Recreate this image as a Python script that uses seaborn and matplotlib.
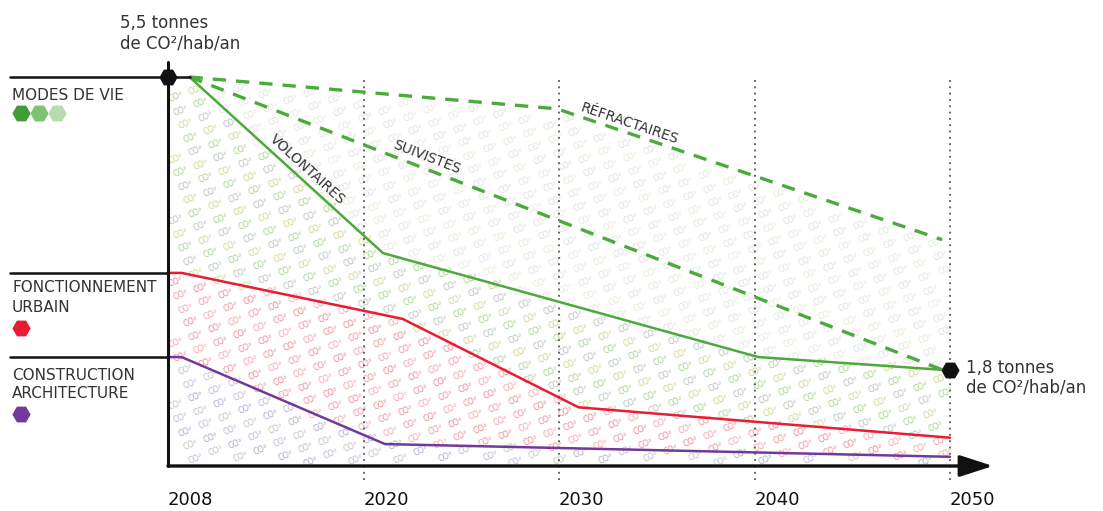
import numpy as np
import pandas as pd
import matplotlib
matplotlib.use("Agg")
import matplotlib.pyplot as plt
import seaborn as sns

# axe des années : positions régulières (2008 -> 2020 dessiné comme une décennie)
annees = ["2008", "2020", "2030", "2040", "2050"]
pos_annees = [0, 1, 2, 3, 4]

# trajectoires "modes de vie" (t CO2/hab/an)
volontaires_x = [0.11, 1.10, 3.02, 3.96]
volontaires_y = [5.50, 3.01, 1.54, 1.36]
suivistes_x = [0.11, 3.96]
suivistes_y = [5.50, 1.36]
refractaires_x = [0.11, 1.99, 3.96]
refractaires_y = [5.50, 5.05, 3.20]

# fonctionnement urbain / construction-architecture
urbain_x = [0.0, 0.07, 1.20, 2.10, 4.0]
urbain_y = [2.73, 2.73, 2.08, 0.83, 0.40]
construction_x = [0.0, 0.07, 1.11, 4.0]
construction_y = [1.54, 1.54, 0.31, 0.13]

depart = (0.0, 5.5)
arrivee = (4.0, 1.36)

vert = "#4caa3c"
rouge = "#e81c35"
violet = "#73399a"
noir = "#111111"
gris_txt = "#333333"

sns.set_theme(style="white")
plt.rcParams["font.family"] = ["DejaVu Sans"]

W, H = 1103, 511
fig = plt.figure(figsize=(W / 100, H / 100), dpi=100)
PX = 195.5            # pixels par intervalle
PY = 389 / 5.5        # pixels par tonne
ax = fig.add_axes([168 / W, 45 / H, 4.3 * PX / W, 406 / H])
ax.set_xlim(0, 4.3)
ax.set_ylim(0, 406 / PY)
ax.axis("off")


def fx(px):
    return px / W


def fy(py):
    return 1 - py / H


# motif "CO²" en fond, coloré selon la bande
haut = lambda x: np.interp(x, [0] + refractaires_x, [5.5] + refractaires_y)
g_vert = lambda x: np.interp(x, [0] + volontaires_x, [5.5] + volontaires_y)
g_rouge = lambda x: np.interp(x, urbain_x, urbain_y)
g_violet = lambda x: np.interp(x, construction_x, construction_y)
pal = {
    "A": ["#dde4d8", "#e6e8d4", "#dadfe0"],
    "B": ["#9fce88", "#cad386", "#b0beb6"],
    "C": ["#f2808b", "#f59ea6", "#f18d95"],
    "D": ["#aaa3cc", "#bab3cf", "#c4bcbc"],
}
for i in range(-20, 50):
    for j in range(-40, 40):
        px = i * 20 + j * 5 + 8
        pu = i * 7.5 - j * 13.5
        x, y = px / PX, pu / PY
        if not (0.03 < x < 3.98 and 0.06 < y < haut(x) - 0.06):
            continue
        if y > g_vert(x):
            b = "A"
        elif y > g_rouge(x):
            b = "B"
        elif y > g_violet(x):
            b = "C"
        else:
            b = "D"
        c = pal[b][(i + 2 * j) % 3]
        ax.text(x, y, "CO²", fontsize=5.8, rotation=22, ha="center", va="center",
                color=c, zorder=1)

# lignes pointillées des années
ax.vlines(pos_annees[1:], -0.2, 5.46, colors="#555555", lw=1.3,
          linestyles=(0, (1, 2.5)), clip_on=False, zorder=2)

# courbes
sns.lineplot(x=refractaires_x, y=refractaires_y, ax=ax, color=vert, lw=2.4,
             linestyle=(0, (4, 3)), estimator=None, sort=False, zorder=4, clip_on=False)
sns.lineplot(x=suivistes_x, y=suivistes_y, ax=ax, color=vert, lw=2.4,
             linestyle=(0, (4, 3)), estimator=None, sort=False, zorder=4, clip_on=False)
sns.lineplot(x=volontaires_x, y=volontaires_y, ax=ax, color=vert, lw=1.8,
             estimator=None, sort=False, zorder=4, clip_on=False)
sns.lineplot(x=urbain_x, y=urbain_y, ax=ax, color=rouge, lw=1.8,
             estimator=None, sort=False, zorder=4, clip_on=False)
sns.lineplot(x=construction_x, y=construction_y, ax=ax, color=violet, lw=1.8,
             estimator=None, sort=False, zorder=4, clip_on=False)

# axes
ax.plot([0, 0], [0, 404 / PY], color=noir, lw=2.2, clip_on=False, zorder=5)
ax.annotate("", xy=(4.22, 0), xytext=(0, 0), annotation_clip=False, zorder=5,
            arrowprops=dict(arrowstyle="-|>,head_length=1.7,head_width=0.55",
                            color=noir, lw=2.4, shrinkA=0, shrinkB=0))
xg = -158 / PX
ax.plot([xg, volontaires_x[0]], [volontaires_y[0]] * 2, color=noir, lw=1.8, clip_on=False, zorder=5)
ax.plot([xg, 0], [urbain_y[0]] * 2, color=noir, lw=1.8, clip_on=False, zorder=5)
ax.plot([xg, 0], [construction_y[0]] * 2, color=noir, lw=1.8, clip_on=False, zorder=5)

ax.plot(*depart, marker="H", ms=12, color=noir, clip_on=False, zorder=6)
ax.plot(*arrivee, marker="H", ms=12, color=noir, clip_on=False, zorder=6)

for p, a in zip(pos_annees, annees):
    ax.text(p, -34 / PY, a, fontsize=13, ha="left", va="center", color=noir)


def etiquette(xs, ys, k, t, texte, off):
    p0 = ax.transData.transform((xs[k], ys[k]))
    p1 = ax.transData.transform((xs[k + 1], ys[k + 1]))
    ang = np.degrees(np.arctan2(p1[1] - p0[1], p1[0] - p0[0]))
    x = xs[k] + t * (xs[k + 1] - xs[k])
    y = ys[k] + t * (ys[k + 1] - ys[k])
    r = np.radians(ang)
    ax.annotate(texte, (x, y), xytext=(-np.sin(r) * off, np.cos(r) * off),
                textcoords="offset points", rotation=ang, rotation_mode="anchor",
                ha="center", va="bottom", fontsize=10, color=gris_txt, zorder=7)


etiquette(volontaires_x, volontaires_y, 0, 0.57, "VOLONTAIRES", 3)
etiquette(suivistes_x, suivistes_y, 0, 0.31, "SUIVISTES", 3)
etiquette(refractaires_x, refractaires_y, 1, 0.18, "RÉFRACTAIRES", 1.5)

# textes d'extrémité
fig.text(fx(120), fy(23), "5,5 tonnes", fontsize=12, color=gris_txt, ha="left", va="center")
fig.text(fx(120), fy(43), "de CO²/hab/an", fontsize=12, color=gris_txt, ha="left", va="center")
fig.text(fx(966), fy(368), "1,8 tonnes", fontsize=12, color=gris_txt, ha="left", va="center")
fig.text(fx(966), fy(388), "de CO²/hab/an", fontsize=12, color=gris_txt, ha="left", va="center")

# légende à gauche
fig.text(fx(12), fy(96), "MODES DE VIE", fontsize=11, color=gris_txt, ha="left", va="center")
fig.text(fx(12), fy(288), "FONCTIONNEMENT", fontsize=11, color=gris_txt, ha="left", va="center")
fig.text(fx(12), fy(307), "URBAIN", fontsize=11, color=gris_txt, ha="left", va="center")
fig.text(fx(12), fy(375), "CONSTRUCTION", fontsize=11, color=gris_txt, ha="left", va="center")
fig.text(fx(12), fy(393), "ARCHITECTURE", fontsize=11, color=gris_txt, ha="left", va="center")
for px, c in zip([21, 39, 57], ["#3f9c37", "#80c274", "#b6dcae"]):
    ax.plot(fx(px), fy(113), marker="H", ms=12, color=c, transform=fig.transFigure, clip_on=False)
ax.plot(fx(21), fy(328), marker="H", ms=12, color=rouge, transform=fig.transFigure, clip_on=False)
ax.plot(fx(21), fy(414), marker="H", ms=12, color=violet, transform=fig.transFigure, clip_on=False)

fig.savefig("out.png", dpi=100, facecolor="white")
